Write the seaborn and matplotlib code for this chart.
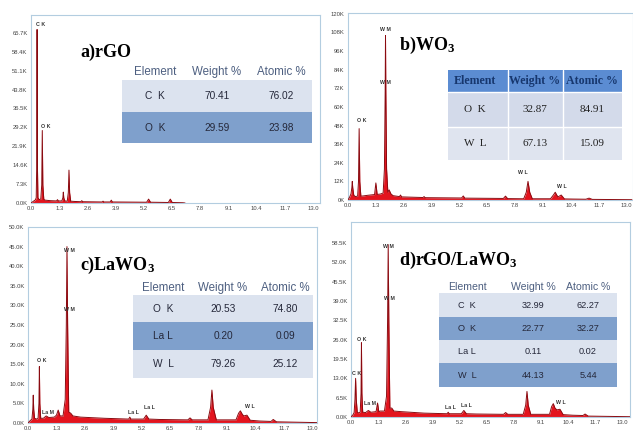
import numpy as np
import pandas as pd
import matplotlib
matplotlib.use("Agg")
import matplotlib.pyplot as plt
from matplotlib.patches import Rectangle
import seaborn as sns

# ---------------- data ----------------
xticks = [0.0, 1.3, 2.6, 3.9, 5.2, 6.5, 7.8, 9.1, 10.4, 11.7, 13.0]
xtick_labels = ["0.0", "1.3", "2.6", "3.9", "5.2", "6.5", "7.8", "9.1", "10.4", "11.7", "13.0"]

# a) rGO  (energy keV, counts in K)
energy_a = [0.00, 0.10, 0.20, 0.24, 0.265, 0.28, 0.295, 0.32, 0.38, 0.45, 0.495, 0.52, 0.545, 0.59,
            0.65, 0.90, 1.18, 1.22, 1.26, 1.30, 1.42, 1.47, 1.49, 1.51, 1.56, 1.67, 1.72, 1.75, 1.78,
            1.83, 2.00, 2.30, 2.34, 2.38, 3.28, 3.32, 3.36, 3.65, 3.70, 3.75, 5.33, 5.42, 5.51,
            6.33, 6.42, 6.51, 7.00, 7.10]
counts_a = [0.0, 0.6, 1.2, 2.0, 15.0, 67.0, 15.0, 2.0, 1.3, 1.5, 7.0, 28.0, 7.0, 1.4,
            1.1, 0.9, 0.8, 1.3, 0.8, 0.8, 0.8, 2.0, 4.2, 2.0, 0.8, 0.7, 4.0, 12.7, 4.0,
            0.7, 0.6, 0.5, 0.9, 0.5, 0.4, 0.7, 0.4, 0.4, 1.1, 0.4, 0.3, 1.5, 0.3,
            0.2, 1.5, 0.2, 0.1, 0.0]
yticks_a = [0.0, 7.3, 14.6, 21.9, 29.2, 36.5, 43.8, 51.1, 58.4, 65.7]
ytick_labels_a = ["0.0K", "7.3K", "14.6K", "21.9K", "29.2K", "36.5K", "43.8K", "51.1K", "58.4K", "65.7K"]
peaks_a = [("C K", 0.22, 69.0), ("O K", 0.45, 29.5)]

# b) WO3
energy_b = [0.00, 0.08, 0.14, 0.18, 0.20, 0.22, 0.27, 0.35, 0.45, 0.49, 0.52, 0.55, 0.60, 0.70, 0.90,
            1.10, 1.24, 1.30, 1.36, 1.50, 1.64, 1.70, 1.735, 1.75, 1.765, 1.80, 1.86, 1.92, 2.00,
            2.10, 2.40, 2.45, 2.50, 3.50, 3.55, 3.60, 5.30, 5.38, 5.45, 7.25, 7.35, 7.45, 8.20,
            8.32, 8.40, 8.48, 8.60, 9.45, 9.60, 9.67, 9.75, 9.80, 9.95, 10.10, 10.50, 11.10, 11.25,
            11.40, 13.25]
counts_b = [0.0, 2.0, 4.0, 8.0, 12.0, 8.0, 3.0, 2.2, 2.5, 12.0, 46.0, 12.0, 2.5, 2.6, 3.0,
            3.3, 3.5, 11.0, 3.6, 3.8, 4.5, 20.0, 70.0, 106.0, 70.0, 20.0, 5.0, 6.5, 4.0,
            2.8, 2.2, 3.2, 2.0, 1.6, 2.2, 1.5, 1.3, 2.6, 1.2, 1.0, 2.5, 0.9, 0.8,
            5.0, 12.0, 5.0, 0.8, 0.8, 3.5, 5.0, 3.0, 2.0, 3.2, 0.7, 0.6, 0.5, 1.2,
            0.4, 0.2]
yticks_b = [0, 12, 24, 36, 48, 60, 72, 84, 96, 108, 120]
ytick_labels_b = ["0K", "12K", "24K", "36K", "48K", "60K", "72K", "84K", "96K", "108K", "120K"]
peaks_b = [("W M", 1.50, 110.0), ("W M", 1.50, 76.0), ("O K", 0.40, 51.0), ("W L", 7.95, 18.0), ("W L", 9.75, 9.0)]

# c) LaWO3
energy_c = [0.00, 0.10, 0.18, 0.22, 0.24, 0.26, 0.30, 0.40, 0.46, 0.50, 0.52, 0.54, 0.58, 0.70,
            0.83, 0.95, 1.20, 1.30, 1.38, 1.46, 1.60, 1.70, 1.75, 1.78, 1.81, 1.86, 1.95, 2.05,
            2.40, 3.50, 4.60, 4.65, 4.70, 5.28, 5.40, 5.52, 6.00, 7.30, 7.40, 7.50, 8.22, 8.34,
            8.40, 8.46, 8.60, 9.50, 9.62, 9.70, 9.78, 9.85, 10.00, 10.15, 10.60, 11.10, 11.20,
            11.35, 13.20]
counts_c = [0.0, 0.6, 1.0, 3.5, 7.1, 3.5, 1.2, 1.0, 1.2, 5.0, 14.4, 5.0, 1.2, 1.2,
            1.8, 1.4, 1.5, 2.0, 3.3, 1.8, 1.8, 6.0, 25.0, 45.0, 25.0, 2.8, 2.5, 1.8,
            1.5, 1.2, 1.0, 1.5, 1.0, 1.0, 2.0, 1.0, 0.9, 0.8, 1.3, 0.8, 0.8, 4.0,
            8.4, 4.0, 0.8, 0.8, 2.5, 3.1, 2.3, 1.8, 2.0, 0.7, 0.5, 0.4, 0.9,
            0.3, 0.1]
yticks_c = [0.0, 5.0, 10.0, 15.0, 20.0, 25.0, 30.0, 35.0, 40.0, 45.0, 50.0]
ytick_labels_c = ["0.0K", "5.0K", "10.0K", "15.0K", "20.0K", "25.0K", "30.0K", "35.0K", "40.0K", "45.0K", "50.0K"]
peaks_c = [("W M", 1.65, 44.0), ("W M", 1.65, 29.0), ("O K", 0.40, 16.0), ("La M", 0.62, 2.6),
           ("La L", 4.55, 2.7), ("La L", 5.30, 4.0), ("W L", 9.90, 4.3)]

# d) rGO/LaWO3
energy_d = [0.00, 0.10, 0.15, 0.19, 0.22, 0.25, 0.30, 0.36, 0.44, 0.48, 0.50, 0.52, 0.56, 0.70,
            0.83, 0.95, 1.20, 1.27, 1.33, 1.40, 1.60, 1.70, 1.75, 1.78, 1.81, 1.86, 1.95, 2.05,
            2.40, 3.50, 4.60, 4.65, 4.70, 5.28, 5.40, 5.52, 6.00, 7.30, 7.40, 7.50, 8.24, 8.36,
            8.42, 8.48, 8.60, 9.50, 9.60, 9.68, 9.76, 9.85, 10.00, 10.15, 10.60, 11.10, 11.20,
            11.35, 13.35]
counts_d = [0.0, 0.8, 1.5, 6.0, 13.0, 6.0, 1.6, 1.4, 1.6, 8.0, 25.0, 8.0, 1.6, 1.5,
            2.2, 1.6, 1.8, 4.7, 1.8, 2.0, 2.0, 7.0, 32.0, 58.0, 32.0, 3.0, 3.0, 2.0,
            1.8, 1.3, 1.1, 1.6, 1.1, 1.1, 2.2, 1.1, 1.0, 0.9, 1.5, 0.9, 0.9, 4.0,
            8.6, 4.0, 0.9, 0.9, 3.5, 4.5, 3.0, 2.4, 2.6, 0.8, 0.6, 0.5, 1.0,
            0.3, 0.1]
yticks_d = [0.0, 6.5, 13.0, 19.5, 26.0, 32.5, 39.0, 45.5, 52.0, 58.5]
ytick_labels_d = ["0.0K", "6.5K", "13.0K", "19.5K", "26.0K", "32.5K", "39.0K", "45.5K", "52.0K", "58.5K"]
peaks_d = [("W M", 1.55, 57.5), ("W M", 1.60, 40.0), ("O K", 0.30, 26.0), ("C K", 0.05, 14.5),
           ("La M", 0.60, 4.4), ("La L", 4.50, 3.1), ("La L", 5.25, 3.8), ("W L", 9.80, 5.0)]

table_header = ["Element", "Weight %", "Atomic %"]
table_a = [["C  K", "70.41", "76.02"], ["O  K", "29.59", "23.98"]]
table_b = [["O  K", "32.87", "84.91"], ["W  L", "67.13", "15.09"]]
table_c = [["O  K", "20.53", "74.80"], ["La L", "0.20", "0.09"], ["W  L", "79.26", "25.12"]]
table_d = [["C  K", "32.99", "62.27"], ["O  K", "22.77", "32.27"], ["La L", "0.11", "0.02"], ["W  L", "44.13", "5.44"]]

# ---------------- style ----------------
W, H = 633, 436
sns.set_theme(style="white")
plt.rcParams["font.family"] = ["Liberation Sans", "DejaVu Sans"]
plt.rcParams["mathtext.fontset"] = "custom"
plt.rcParams["mathtext.rm"] = "Liberation Serif:bold"
plt.rcParams["mathtext.default"] = "rm"

NARROW = ["Liberation Sans Narrow", "Liberation Sans", "DejaVu Sans"]
SPINE = "#b3cde0"
FILL = "#e3141e"
EDGE = "#8a0a10"

fig = plt.figure(figsize=(W / 100, H / 100), dpi=100)
fig.patch.set_facecolor("white")


def px_axes(left, top, right, bottom):
    return fig.add_axes([left / W, (H - bottom) / H, (right - left) / W, (bottom - top) / H])


def spectrum(rect, xmax, ymax, e, c, yt, ytl, peaks):
    ax = px_axes(*rect)
    df = pd.DataFrame({"E": e, "C": c})
    ax.fill_between(df["E"], df["C"], 0, color=FILL, lw=0, zorder=2)
    sns.lineplot(data=df, x="E", y="C", ax=ax, color=EDGE, lw=0.7, sort=False, zorder=3)
    ax.set_xlim(0, xmax)
    ax.set_ylim(0, ymax)
    ax.set_xticks(xticks)
    ax.set_xticklabels(xtick_labels, family=NARROW, fontsize=4.2, color="#444444")
    ax.set_yticks(yt)
    ax.set_yticklabels(ytl, family=NARROW, fontsize=4.2, color="#444444")
    ax.tick_params(length=0, pad=2.5)
    ax.set_xlabel("")
    ax.set_ylabel("")
    ax.grid(False)
    for s in ax.spines.values():
        s.set_color(SPINE)
        s.set_linewidth(0.8)
    for txt, x, y in peaks:
        ax.text(x, y, txt, fontsize=3.8, family=NARROW, fontweight="bold",
                color="#333333", ha="left", va="center", zorder=4)
    return ax


spectrum((31, 15, 320, 203), 13.32, 72.6, energy_a, counts_a, yticks_a, ytick_labels_a, peaks_a)
spectrum((348, 13, 633, 200), 13.3, 120.5, energy_b, counts_b, yticks_b, ytick_labels_b, peaks_b)
spectrum((28, 227, 317, 423), 13.2, 50.0, energy_c, counts_c, yticks_c, ytick_labels_c, peaks_c)
spectrum((351, 222, 630, 417), 13.35, 65.6, energy_d, counts_d, yticks_d, ytick_labels_d, peaks_d)

# overlay in pixel coordinates for titles / tables
ov = fig.add_axes([0, 0, 1, 1], zorder=10)
ov.set_xlim(0, W)
ov.set_ylim(H, 0)
ov.axis("off")
ov.patch.set_alpha(0)

LIGHT = "#dce3ef"
DARK = "#7fa0cc"


def sans_table(x0, x1, head_y, row_edges, cols, rows, hsize, vsize):
    for i, (t, b) in enumerate(zip(row_edges[:-1], row_edges[1:])):
        ov.add_patch(Rectangle((x0, t), x1 - x0, b - t, color=LIGHT if i % 2 == 0 else DARK, lw=0))
        for cx, val in zip(cols, rows[i]):
            ov.text(cx, (t + b) / 2, val, ha="center", va="center", fontsize=vsize, color="#25283a")
    for cx, val in zip(cols, table_header):
        ov.text(cx, head_y, val, ha="center", va="center", fontsize=hsize, color="#4d5f80")


# a)
ov.text(80, 52, "a)rGO", family="Liberation Serif", fontweight="bold", fontsize=13, ha="left", va="center", color="black")
sans_table(122, 312, 72, [80, 112, 143], [155, 217, 281], table_a, 8.3, 7.3)

# b) serif table
ov.text(399, 45, r"b)WO$_3$", family="Liberation Serif", fontweight="bold", fontsize=13, ha="left", va="center", color="black")
bx0, bx1 = 448, 622
b_edges = [92, 127, 160]
ov.add_patch(Rectangle((bx0, 70), bx1 - bx0, 22, color="#5b8cd2", lw=0))
for i, (t, b) in enumerate(zip(b_edges[:-1], b_edges[1:])):
    ov.add_patch(Rectangle((bx0, t), bx1 - bx0, b - t, color="#d3daea" if i == 0 else "#dfe4ef", lw=0))
for xs in [508, 563]:
    ov.plot([xs, xs], [70, 160], color="white", lw=1.0)
ov.plot([bx0, bx1], [92, 92], color="white", lw=1.0)
ov.plot([bx0, bx1], [127, 127], color="white", lw=1.0)
b_cols = [475, 535, 592]
for cx, val in zip(b_cols, table_header):
    ov.text(cx, 81, val, ha="center", va="center", family="Liberation Serif", fontweight="bold",
            fontsize=8.6, color="#17376e")
for i, (t, b) in enumerate(zip(b_edges[:-1], b_edges[1:])):
    for cx, val in zip(b_cols, table_b[i]):
        ov.text(cx, (t + b) / 2, val, ha="center", va="center", family="Liberation Serif",
                fontsize=8, color="#222222")

# c)
ov.text(80, 265, r"c)LaWO$_3$", family="Liberation Serif", fontweight="bold", fontsize=13, ha="left", va="center", color="black")
sans_table(133, 313, 288, [295, 322, 350, 378], [163, 223, 285], table_c, 8.3, 7.3)

# d)
ov.text(399, 260, r"d)rGO/LaWO$_3$", family="Liberation Serif", fontweight="bold", fontsize=13, ha="left", va="center", color="black")
sans_table(439, 617, 287, [293, 317, 340, 363, 387], [467, 533, 588], table_d, 7.6, 6.6)

fig.savefig("out.png", dpi=100, facecolor="white")
